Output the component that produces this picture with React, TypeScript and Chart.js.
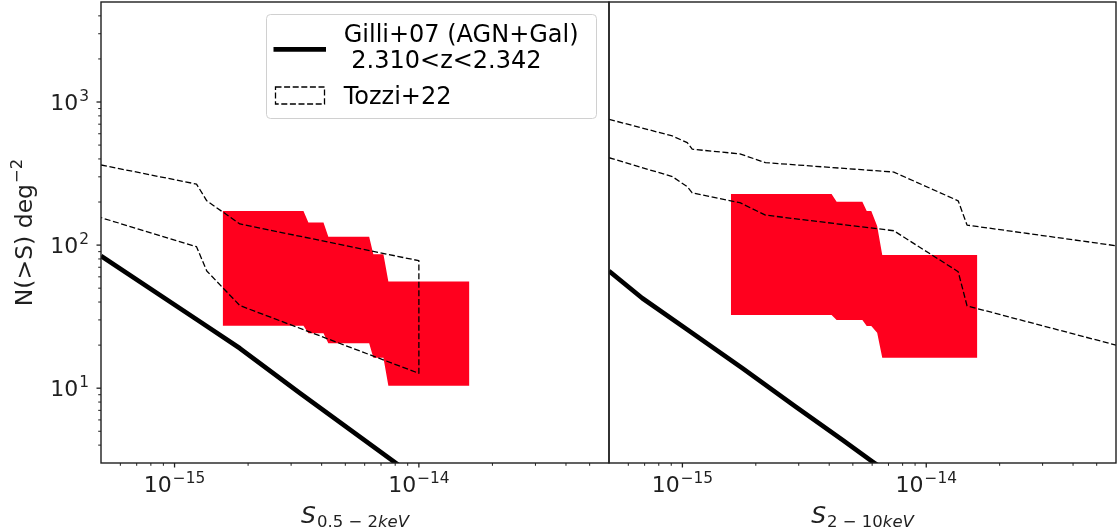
import React, { useEffect, useRef } from 'react';
import { Chart, registerables } from 'chart.js';

Chart.register(...registerables);

// ---------- axis limits ----------
const X_MIN = 5e-16;
const X_MAX = 6e-14;
const Y_MIN = 3;
const Y_MAX = 5000;

// ---------- left panel: 0.5-2 keV ----------
const gilliSoftX = [5e-16, 1.27e-15, 1.85e-15, 3.27e-15, 7.9e-15, 8.3e-15];
const gilliSoftY = [84, 29.2, 19.0, 9.2, 3.07, 2.88];

const tozziSoftX = [5e-16, 1.23e-15, 1.355e-15, 1.85e-15, 1e-14];
const tozziSoftUpper = [363, 267, 204, 140.6, 77.8];
const tozziSoftLower = [155.6, 97.5, 65.9, 37.8, 12.7];

const bandSoftX = [1.574e-15, 3.37e-15, 3.53e-15, 4.07e-15, 4.26e-15, 6.26e-15, 6.51e-15, 7.16e-15, 7.5e-15, 1.61e-14];
const bandSoftUpper = [173, 173, 144, 144, 114.5, 114.5, 86.3, 86.3, 55.6, 55.6];
const bandSoftLower = [27.3, 27.3, 24.2, 24.2, 20.6, 20.6, 16.3, 16.3, 10.4, 10.4];

// ---------- right panel: 2-10 keV ----------
const gilliHardX = [5e-16, 6.85e-16, 1.03e-15, 1.76e-15, 2.91e-15, 4.53e-15, 6.01e-15, 6.4e-15];
const gilliHardY = [65.9, 42.5, 26.2, 13.8, 7.43, 4.35, 3.07, 2.85];

const tozziHardX = [5e-16, 9.1e-16, 1.047e-15, 1.097e-15, 1.72e-15, 2.19e-15, 7.36e-15, 1.352e-14, 1.47e-14, 6e-14];
const tozziHardUpper = [757, 579, 520, 468, 434, 377, 324, 204, 138, 99];
const tozziHardLower = [408, 301, 256, 232, 198, 162, 126, 65.2, 37.6, 20.0];

const bandHardX = [1.58e-15, 4.09e-15, 4.29e-15, 5.47e-15, 5.7e-15, 5.95e-15, 6.29e-15, 6.6e-15, 1.62e-14];
const bandHardUpper = [227.6, 227.6, 201, 201, 173, 173, 136, 85.3, 85.3];
const bandHardLower = [32.5, 32.5, 30.0, 30.0, 27.2, 27.2, 24.4, 16.3, 16.3];

// ---------- ticks & labels ----------
const xMajorTicks = [1e-15, 1e-14];
const xMajorExp = ['\u221215', '\u221214'];
const xMinorTicks = [6e-16, 7e-16, 8e-16, 9e-16, 2e-15, 3e-15, 4e-15, 5e-15, 6e-15, 7e-15, 8e-15, 9e-15, 2e-14, 3e-14, 4e-14, 5e-14];
const yMajorTicks = [10, 100, 1000];
const yMajorExp = ['1', '2', '3'];
const yMinorTicks = [4, 5, 6, 7, 8, 9, 20, 30, 40, 50, 60, 70, 80, 90, 200, 300, 400, 500, 600, 700, 800, 900, 2000, 3000, 4000];

const yTitleMain = 'N(>S) deg';
const yTitleExp = '\u22122';
const xTitleSoft = ['0.5 \u2212 2', 'keV'];
const xTitleHard = ['2 \u2212 10', 'keV'];
const legendGilli = ['Gilli+07 (AGN+Gal)', ' 2.310<z<2.342'];
const legendTozzi = 'Tozzi+22';

const RED = '#ff001e';
const INK = '#1f1f1f';
const FONT = "'DejaVu Sans', 'Liberation Sans', sans-serif";

const pts = (xs: number[], ys: number[]) => xs.map((x, i) => ({ x, y: ys[i] }));

function drawPow(ctx: CanvasRenderingContext2D, base: string, exp: string, x: number, y: number, align: 'center' | 'right', size: number) {
  const supSize = size * 0.7;
  ctx.font = `${size}px ${FONT}`;
  const wb = ctx.measureText(base).width;
  ctx.font = `${supSize}px ${FONT}`;
  const we = ctx.measureText(exp).width;
  const gap = 1;
  const total = wb + gap + we;
  const x0 = align === 'center' ? x - total / 2 : x - total;
  ctx.textAlign = 'left';
  ctx.textBaseline = 'alphabetic';
  ctx.font = `${size}px ${FONT}`;
  ctx.fillText(base, x0, y);
  ctx.font = `${supSize}px ${FONT}`;
  ctx.fillText(exp, x0 + wb + gap, y - size * 0.42);
}

function makeDecor(opts: { sub: string[]; showY: boolean; legend: boolean }) {
  return {
    id: 'panelDecor',
    afterDraw(chart: any) {
      const ctx: CanvasRenderingContext2D = chart.ctx;
      const { left, right, top, bottom } = chart.chartArea;
      const xs = chart.scales.x;
      const ys = chart.scales.y;
      ctx.save();
      ctx.fillStyle = INK;
      ctx.strokeStyle = INK;

      // x ticks
      ctx.lineWidth = 1.3;
      xMajorTicks.forEach((v) => {
        const px = xs.getPixelForValue(v);
        ctx.beginPath();
        ctx.moveTo(px, bottom);
        ctx.lineTo(px, bottom + 4.5);
        ctx.stroke();
      });
      ctx.lineWidth = 1.0;
      xMinorTicks.forEach((v) => {
        const px = xs.getPixelForValue(v);
        ctx.beginPath();
        ctx.moveTo(px, bottom);
        ctx.lineTo(px, bottom + 2.8);
        ctx.stroke();
      });
      xMajorTicks.forEach((v, i) => {
        drawPow(ctx, '10', xMajorExp[i], xs.getPixelForValue(v), bottom + 29, 'center', 22);
      });

      if (opts.showY) {
        ctx.lineWidth = 1.3;
        yMajorTicks.forEach((v) => {
          const py = ys.getPixelForValue(v);
          ctx.beginPath();
          ctx.moveTo(left, py);
          ctx.lineTo(left - 4.5, py);
          ctx.stroke();
        });
        ctx.lineWidth = 1.0;
        yMinorTicks.forEach((v) => {
          const py = ys.getPixelForValue(v);
          ctx.beginPath();
          ctx.moveTo(left, py);
          ctx.lineTo(left - 2.8, py);
          ctx.stroke();
        });
        yMajorTicks.forEach((v, i) => {
          drawPow(ctx, '10', yMajorExp[i], left - 12, ys.getPixelForValue(v) + 8, 'right', 22);
        });
        // y title (rotated)
        ctx.save();
        ctx.translate(32, (top + bottom) / 2);
        ctx.rotate(-Math.PI / 2);
        const ms = 23.5;
        ctx.font = `${ms}px ${FONT}`;
        const w1 = ctx.measureText(yTitleMain).width;
        ctx.font = `${ms * 0.7}px ${FONT}`;
        const w2 = ctx.measureText(yTitleExp).width;
        const tot = w1 + 1 + w2;
        ctx.textAlign = 'left';
        ctx.textBaseline = 'alphabetic';
        ctx.font = `${ms}px ${FONT}`;
        ctx.fillText(yTitleMain, -tot / 2, 0);
        ctx.font = `${ms * 0.7}px ${FONT}`;
        ctx.fillText(yTitleExp, -tot / 2 + w1 + 1, -ms * 0.42);
        ctx.restore();
      }

      // x title: italic S with subscript
      {
        const mainSize = 23.5;
        const subSize = 16.5;
        ctx.font = `italic ${mainSize}px ${FONT}`;
        const wS = ctx.measureText('S').width;
        ctx.font = `${subSize}px ${FONT}`;
        const wa = ctx.measureText(opts.sub[0]).width;
        ctx.font = `italic ${subSize}px ${FONT}`;
        const wbb = ctx.measureText(opts.sub[1]).width;
        const total = wS + 1 + wa + wbb;
        const cx = (left + right) / 2;
        const x0 = cx - total / 2;
        const base = bottom + 60;
        ctx.textAlign = 'left';
        ctx.textBaseline = 'alphabetic';
        ctx.font = `italic ${mainSize}px ${FONT}`;
        ctx.fillText('S', x0, base);
        ctx.font = `${subSize}px ${FONT}`;
        ctx.fillText(opts.sub[0], x0 + wS + 1, base + 4);
        ctx.font = `italic ${subSize}px ${FONT}`;
        ctx.fillText(opts.sub[1], x0 + wS + 1 + wa, base + 4);
      }

      // frame
      ctx.lineWidth = 1.4;
      ctx.strokeStyle = INK;
      ctx.strokeRect(left, top, right - left, bottom - top);

      // legend
      if (opts.legend) {
        const bx = 266, by = 14, bw = 330, bh = 104;
        ctx.beginPath();
        ctx.roundRect(bx + 0.5, by + 0.5, bw, bh, 4);
        ctx.fillStyle = 'rgba(255,255,255,0.8)';
        ctx.fill();
        ctx.strokeStyle = '#d0d0d0';
        ctx.lineWidth = 1;
        ctx.stroke();

        ctx.strokeStyle = '#000';
        ctx.lineWidth = 4.7;
        ctx.lineCap = 'butt';
        ctx.beginPath();
        ctx.moveTo(273.5, 49.3);
        ctx.lineTo(326, 49.3);
        ctx.stroke();

        ctx.lineWidth = 1.3;
        ctx.setLineDash([6, 2.6]);
        ctx.strokeRect(275.5, 87, 49, 17);
        ctx.setLineDash([]);

        ctx.fillStyle = '#000';
        ctx.font = `24px ${FONT}`;
        ctx.textAlign = 'left';
        ctx.textBaseline = 'alphabetic';
        ctx.fillText(legendGilli[0], 343.7, 42.3);
        ctx.fillText(legendGilli[1], 343.7, 68.3);
        ctx.fillText(legendTozzi, 343.7, 104);
      }
      ctx.restore();
    },
  };
}

const lineDs = (data: any[], width: number, dashed: boolean) => ({
  data,
  borderColor: '#000',
  borderWidth: width,
  borderDash: dashed ? [6, 2.6] : [],
  borderCapStyle: 'butt',
  borderJoinStyle: 'round',
  pointRadius: 0,
  fill: false,
  tension: 0,
  clip: 0,
});

const bandDs = (data: any[], fill: any) => ({
  data,
  borderColor: 'rgba(0,0,0,0)',
  borderWidth: 0,
  backgroundColor: RED,
  pointRadius: 0,
  fill,
  tension: 0,
  clip: 0,
});

function Panel(props: { which: 'soft' | 'hard' }) {
  const ref = useRef<HTMLCanvasElement>(null);
  const soft = props.which === 'soft';
  const width = soft ? 612 : 511;
  const leftPos = soft ? 0 : 606;

  useEffect(() => {
    if (!ref.current) return;
    const datasets: any[] = soft
      ? [
          lineDs(pts(gilliSoftX, gilliSoftY), 4.7, false),
          lineDs([...pts(tozziSoftX, tozziSoftUpper), ...pts(tozziSoftX, tozziSoftLower).reverse()], 1.3, true),
          bandDs(pts(bandSoftX, bandSoftUpper), '+1'),
          bandDs(pts(bandSoftX, bandSoftLower), false),
        ]
      : [
          lineDs(pts(gilliHardX, gilliHardY), 4.7, false),
          lineDs(pts(tozziHardX, tozziHardUpper), 1.3, true),
          lineDs(pts(tozziHardX, tozziHardLower), 1.3, true),
          bandDs(pts(bandHardX, bandHardUpper), '+1'),
          bandDs(pts(bandHardX, bandHardLower), false),
        ];

    const chart = new Chart(ref.current, {
      type: 'line',
      data: { datasets },
      options: {
        animation: false,
        responsive: false,
        maintainAspectRatio: false,
        devicePixelRatio: 1,
        layout: { padding: soft ? { left: 0, right: 3, top: 2, bottom: 0 } : { left: 3, right: 1, top: 2, bottom: 0 } },
        plugins: { legend: { display: false }, tooltip: { enabled: false } },
        scales: {
          x: {
            type: 'logarithmic',
            min: X_MIN,
            max: X_MAX,
            bounds: 'data',
            grid: { display: false },
            border: { display: false },
            ticks: { display: false },
            afterFit: (s: any) => {
              s.height = 68;
            },
          },
          y: {
            type: 'logarithmic',
            display: soft,
            min: Y_MIN,
            max: Y_MAX,
            bounds: 'data',
            grid: { display: false },
            border: { display: false },
            ticks: { display: false },
            afterFit: (s: any) => {
              s.width = soft ? 101 : 0;
            },
          },
        },
      } as any,
      plugins: [makeDecor({ sub: soft ? xTitleSoft : xTitleHard, showY: soft, legend: soft })],
    });
    return () => chart.destroy();
  }, []);

  return (
    <canvas
      ref={ref}
      width={width}
      height={531}
      style={{ position: 'absolute', left: leftPos, top: 0, width, height: 531 }}
    />
  );
}

export default function App() {
  return (
    <div style={{ position: 'absolute', left: 0, top: 0, width: 1117, height: 531, background: '#fff', overflow: 'hidden' }}>
      <Panel which="soft" />
      <Panel which="hard" />
    </div>
  );
}
